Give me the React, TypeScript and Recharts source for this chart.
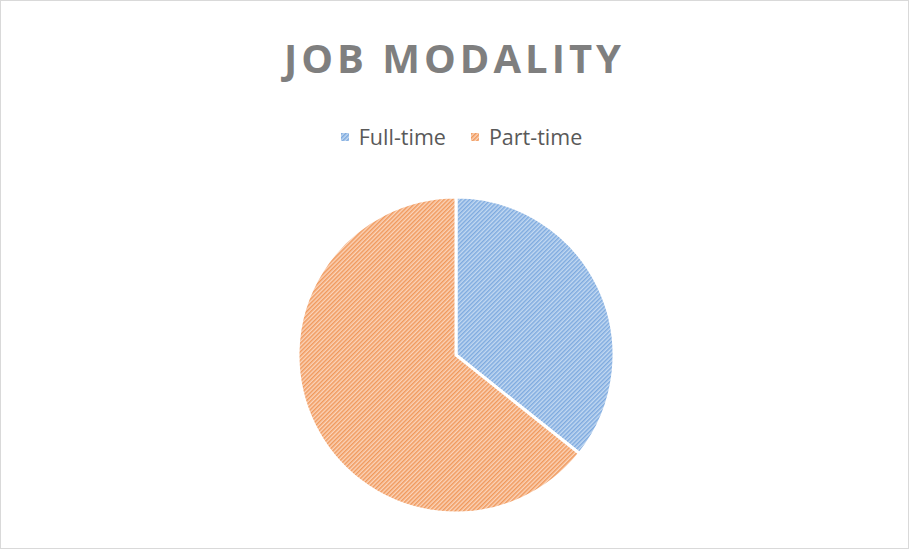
import { PieChart, Pie, Cell } from "recharts";

const categories = ["Full-time", "Part-time"];
const counts = [5, 9];

const COLORS = [
  { base: "#c3d9f1", stripe: "#7eaadf", id: "hatchBlue" },
  { base: "#fbd4ba", stripe: "#f0995c", id: "hatchOrange" },
];

const data = categories.map((name, i) => ({ name, value: counts[i] }));

function Swatch({ i }: { i: number }) {
  return (
    <svg width={8} height={8} style={{ display: "block" }}>
      <rect width={8} height={8} fill={`url(#${COLORS[i].id})`} />
    </svg>
  );
}

export default function App() {
  return (
    <div
      style={{
        position: "absolute",
        left: 0,
        top: 0,
        width: 907,
        height: 547,
        border: "1px solid #d9d9d9",
        background: "#fff",
        fontFamily: "'Open Sans', sans-serif",
      }}
    >
      <svg width={0} height={0} style={{ position: "absolute" }}>
        <defs>
          {COLORS.map((c) => (
            <pattern
              key={c.id}
              id={c.id}
              width={3}
              height={3}
              patternUnits="userSpaceOnUse"
              patternTransform="rotate(45)"
            >
              <rect width={3} height={3} fill={c.base} />
              <rect width={1.5} height={3} fill={c.stripe} />
            </pattern>
          ))}
        </defs>
      </svg>
      <div
        style={{
          position: "absolute",
          top: 30,
          left: 0,
          width: 907,
          textAlign: "center",
          fontSize: 40,
          fontWeight: 700,
          letterSpacing: 4,
          color: "#7f7f7f",
          lineHeight: "54px",
        }}
      >
        JOB MODALITY
      </div>
      <div
        style={{
          position: "absolute",
          top: 122,
          left: 7,
          width: 907,
          display: "flex",
          justifyContent: "center",
          gap: 25,
          fontSize: 21.5,
          color: "#595959",
          lineHeight: "28px",
        }}
      >
        {categories.map((name, i) => (
          <div key={name} style={{ display: "flex", alignItems: "center", gap: 10 }}>
            <Swatch i={i} />
            <span>{name}</span>
          </div>
        ))}
      </div>
      <div style={{ position: "absolute", left: 0, top: 0 }}>
        <PieChart
          width={907}
          height={547}
          margin={{ top: 0, right: 0, bottom: 0, left: 0 }}
        >
          <Pie
            data={data}
            dataKey="value"
            nameKey="name"
            cx={455}
            cy={354}
            outerRadius={158}
            startAngle={90}
            endAngle={-270}
            stroke="#ffffff"
            strokeWidth={3}
            isAnimationActive={false}
          >
            {data.map((d, i) => (
              <Cell key={d.name} fill={`url(#${COLORS[i].id})`} />
            ))}
          </Pie>
        </PieChart>
      </div>
    </div>
  );
}
